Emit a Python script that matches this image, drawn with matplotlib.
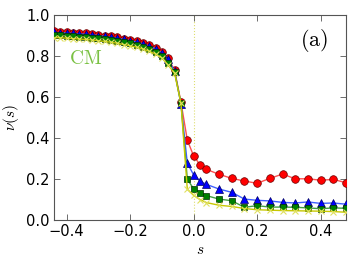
import matplotlib
matplotlib.use("Agg")
import matplotlib.pyplot as plt

s = [-0.44, -0.42, -0.40, -0.38, -0.36, -0.34, -0.32, -0.30, -0.28, -0.26, -0.24,
     -0.22, -0.20, -0.18, -0.16, -0.14, -0.12, -0.10, -0.08, -0.06, -0.04, -0.02,
     0.00, 0.02, 0.04, 0.08, 0.12, 0.16, 0.20, 0.24, 0.28, 0.32, 0.36, 0.40, 0.44, 0.48]

nu_red = [0.920, 0.918, 0.916, 0.914, 0.912, 0.910, 0.907, 0.904, 0.900, 0.896, 0.891,
          0.885, 0.879, 0.872, 0.864, 0.853, 0.839, 0.820, 0.789, 0.730, 0.575, 0.390,
          0.312, 0.270, 0.247, 0.223, 0.203, 0.190, 0.179, 0.203, 0.224, 0.201, 0.201,
          0.194, 0.198, 0.182]
nu_blue = [0.915, 0.914, 0.912, 0.910, 0.908, 0.906, 0.903, 0.900, 0.896, 0.892, 0.887,
           0.881, 0.875, 0.868, 0.860, 0.849, 0.835, 0.816, 0.784, 0.725, 0.565, 0.277,
           0.220, 0.190, 0.174, 0.151, 0.135, 0.102, 0.096, 0.093, 0.086, 0.083, 0.088,
           0.081, 0.083, 0.077]
nu_green = [0.902, 0.901, 0.899, 0.897, 0.895, 0.893, 0.890, 0.887, 0.883, 0.879, 0.874,
            0.868, 0.862, 0.855, 0.846, 0.835, 0.821, 0.802, 0.766, 0.722, 0.570, 0.199,
            0.152, 0.133, 0.119, 0.102, 0.094, 0.062, 0.070, 0.063, 0.063, 0.062, 0.059,
            0.055, 0.059, 0.057]
nu_yellow = [0.890, 0.889, 0.887, 0.885, 0.883, 0.881, 0.878, 0.875, 0.871, 0.867, 0.862,
             0.856, 0.850, 0.843, 0.834, 0.823, 0.809, 0.790, 0.755, 0.715, 0.570, 0.150,
             0.120, 0.100, 0.085, 0.072, 0.066, 0.056, 0.050, 0.048, 0.046, 0.045, 0.044,
             0.043, 0.041, 0.038]

xticks = [-0.4, -0.2, 0.0, 0.2, 0.4]
yticks = [0.0, 0.2, 0.4, 0.6, 0.8, 1.0]

plt.rcParams['mathtext.fontset'] = 'cm'
fig = plt.figure(figsize=(3.54, 2.66), dpi=100)
ax = fig.add_axes([54/354, 46/266, 292/354, 205/266])

ax.axvline(0.0, color='#dede70', linestyle=':', linewidth=0.8, zorder=1)

ax.plot(s, nu_red, '-', color='#ff5050', lw=1.0, marker='o', ms=5.5,
        mfc='#ff0000', mec='#6a0000', mew=0.5, zorder=3)
ax.plot(s, nu_blue, '-', color='#4060ff', lw=1.0, marker='^', ms=5.5,
        mfc='#0000ff', mec='#000060', mew=0.5, zorder=4)
ax.plot(s, nu_green, '-', color='#40a040', lw=1.0, marker='s', ms=5,
        mfc='#008000', mec='#003000', mew=0.5, zorder=5)
ax.plot(s, nu_yellow, '-', color='#c8c800', lw=1.0, marker='x', ms=4.5,
        mec='#e0e060', mew=0.8, zorder=6)

ax.set_xlim(-0.44, 0.48)
ax.set_ylim(0.0, 1.0)
ax.set_xticks(xticks)
ax.set_yticks(yticks)
ax.set_xticklabels(['\u22120.4', '\u22120.2', '0.0', '0.2', '0.4'])
ax.set_yticklabels(['0.0', '0.2', '0.4', '0.6', '0.8', '1.0'])
ax.tick_params(direction='in', top=True, right=True, labelsize=10.5,
               length=4, width=0.6, color='#555555', pad=3)
for sp in ax.spines.values():
    sp.set_color('#555555')
    sp.set_linewidth(0.8)

ax.set_xlabel('$s$', fontsize=11, labelpad=2)
ax.set_ylabel(r'$\nu(s)$', fontsize=11, labelpad=4)

ax.text(0.052, 0.79, r'$\mathrm{CM}$', transform=ax.transAxes, color='#7ac143',
        fontsize=14, va='center', ha='left')
ax.text(0.94, 0.875, r'$\mathrm{(a)}$', transform=ax.transAxes, color='black',
        fontsize=16, va='center', ha='right')

fig.savefig('out.png', dpi=100)
